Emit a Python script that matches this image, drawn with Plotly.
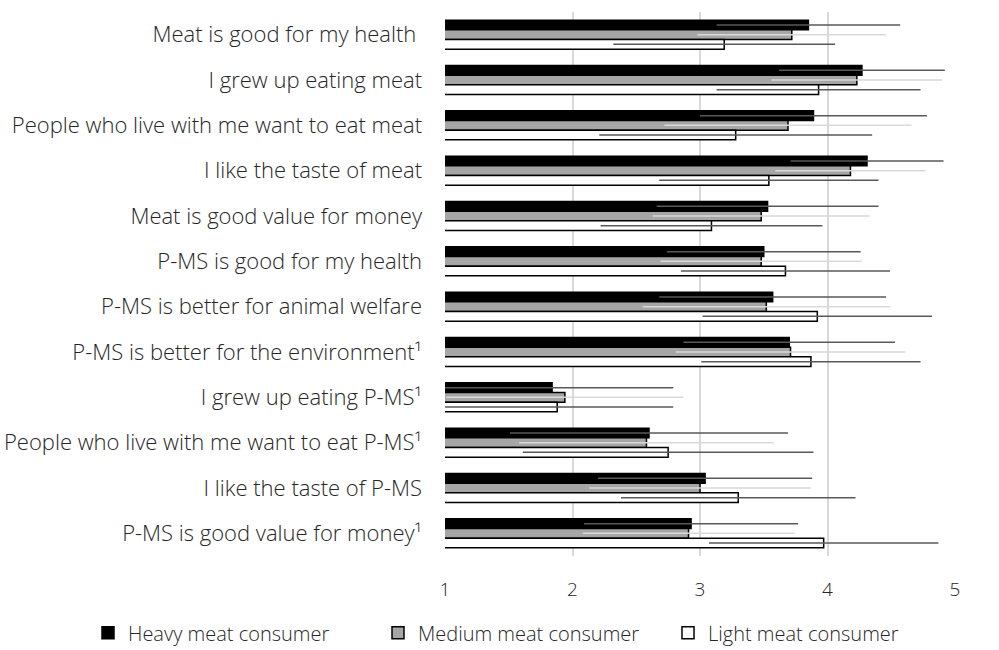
import plotly.graph_objects as go

# Survey statements (top to bottom) and mean agreement (1-5 scale) per consumer group
statements = [
    "Meat is good for my health\u00a0",
    "I grew up eating meat",
    "People who live with me want to eat meat",
    "I like the taste of meat",
    "Meat is good value for money",
    "P-MS is good for my health",
    "P-MS is better for animal welfare",
    "P-MS is better for the environment\u00b9",
    "I grew up eating P-MS\u00b9",
    "People who live with me want to eat P-MS\u00b9",
    "I like the taste of P-MS",
    "P-MS is good value for money\u00b9",
]

heavy_mean = [3.85, 4.27, 3.89, 4.31, 3.53, 3.50, 3.57, 3.70, 1.84, 2.60, 3.04, 2.93]
heavy_sd = [0.72, 0.65, 0.89, 0.60, 0.87, 0.76, 0.89, 0.83, 0.95, 1.09, 0.84, 0.84]

medium_mean = [3.72, 4.23, 3.69, 4.18, 3.48, 3.48, 3.52, 3.71, 1.94, 2.58, 3.00, 2.91]
medium_sd = [0.74, 0.67, 0.97, 0.59, 0.85, 0.79, 0.97, 0.90, 0.93, 1.00, 0.87, 0.83]

light_mean = [3.19, 3.93, 3.28, 3.54, 3.09, 3.67, 3.92, 3.87, 1.88, 2.75, 3.30, 3.97]
light_sd = [0.87, 0.80, 1.07, 0.86, 0.87, 0.82, 0.90, 0.86, 0.91, 1.14, 0.92, 0.90]

x_ticks = [1, 2, 3, 4, 5]

FONT = "Open Sans"
TEXT = "#262626"

groups = [
    ("Heavy meat consumer", heavy_mean, heavy_sd, "#000000", "#595959"),
    ("Medium meat consumer", medium_mean, medium_sd, "#a6a6a6", "#d9d9d9"),
    ("Light meat consumer", light_mean, light_sd, "#ffffff", "#595959"),
]

fig = go.Figure()
for name, mean, sd, fill, err_col in groups:
    fig.add_trace(go.Bar(
        name=name,
        y=statements,
        x=mean,
        orientation="h",
        marker=dict(color=fill, line=dict(color="#000000", width=1.5)),
        error_x=dict(type="data", array=sd, symmetric=True,
                     color=err_col, thickness=1.5, width=0),
    ))

fig.update_layout(
    width=999,
    height=650,
    barmode="group",
    bargap=0.36,
    bargroupgap=0,
    plot_bgcolor="white",
    paper_bgcolor="white",
    margin=dict(l=445, r=44, t=12, b=94, autoexpand=False),
    font=dict(family=FONT, color=TEXT, size=17, weight=300),
    showlegend=True,
    legend=dict(
        orientation="h",
        x=-0.70, xanchor="left",
        y=-0.141, yanchor="middle",
        font=dict(family=FONT, size=20, color=TEXT, weight=300),
        itemwidth=30,
        entrywidth=245,
        traceorder="normal",
        bgcolor="rgba(0,0,0,0)",
    ),
)

fig.update_xaxes(
    range=[1, 5],
    tickvals=x_ticks,
    ticktext=[str(t) for t in x_ticks],
    showgrid=True,
    gridcolor="#d9d9d9",
    gridwidth=1.5,
    zeroline=False,
    showline=False,
    ticks="",
    ticklabelstandoff=20,
    tickfont=dict(family=FONT, size=19, color=TEXT, weight=300),
)

fig.update_yaxes(
    categoryorder="array",
    categoryarray=statements,
    autorange="reversed",
    showgrid=False,
    zeroline=False,
    showline=False,
    ticks="",
    ticklabelstandoff=22,
    tickfont=dict(family=FONT, size=22, color=TEXT, weight=300),
)

fig.write_html("out.html")
